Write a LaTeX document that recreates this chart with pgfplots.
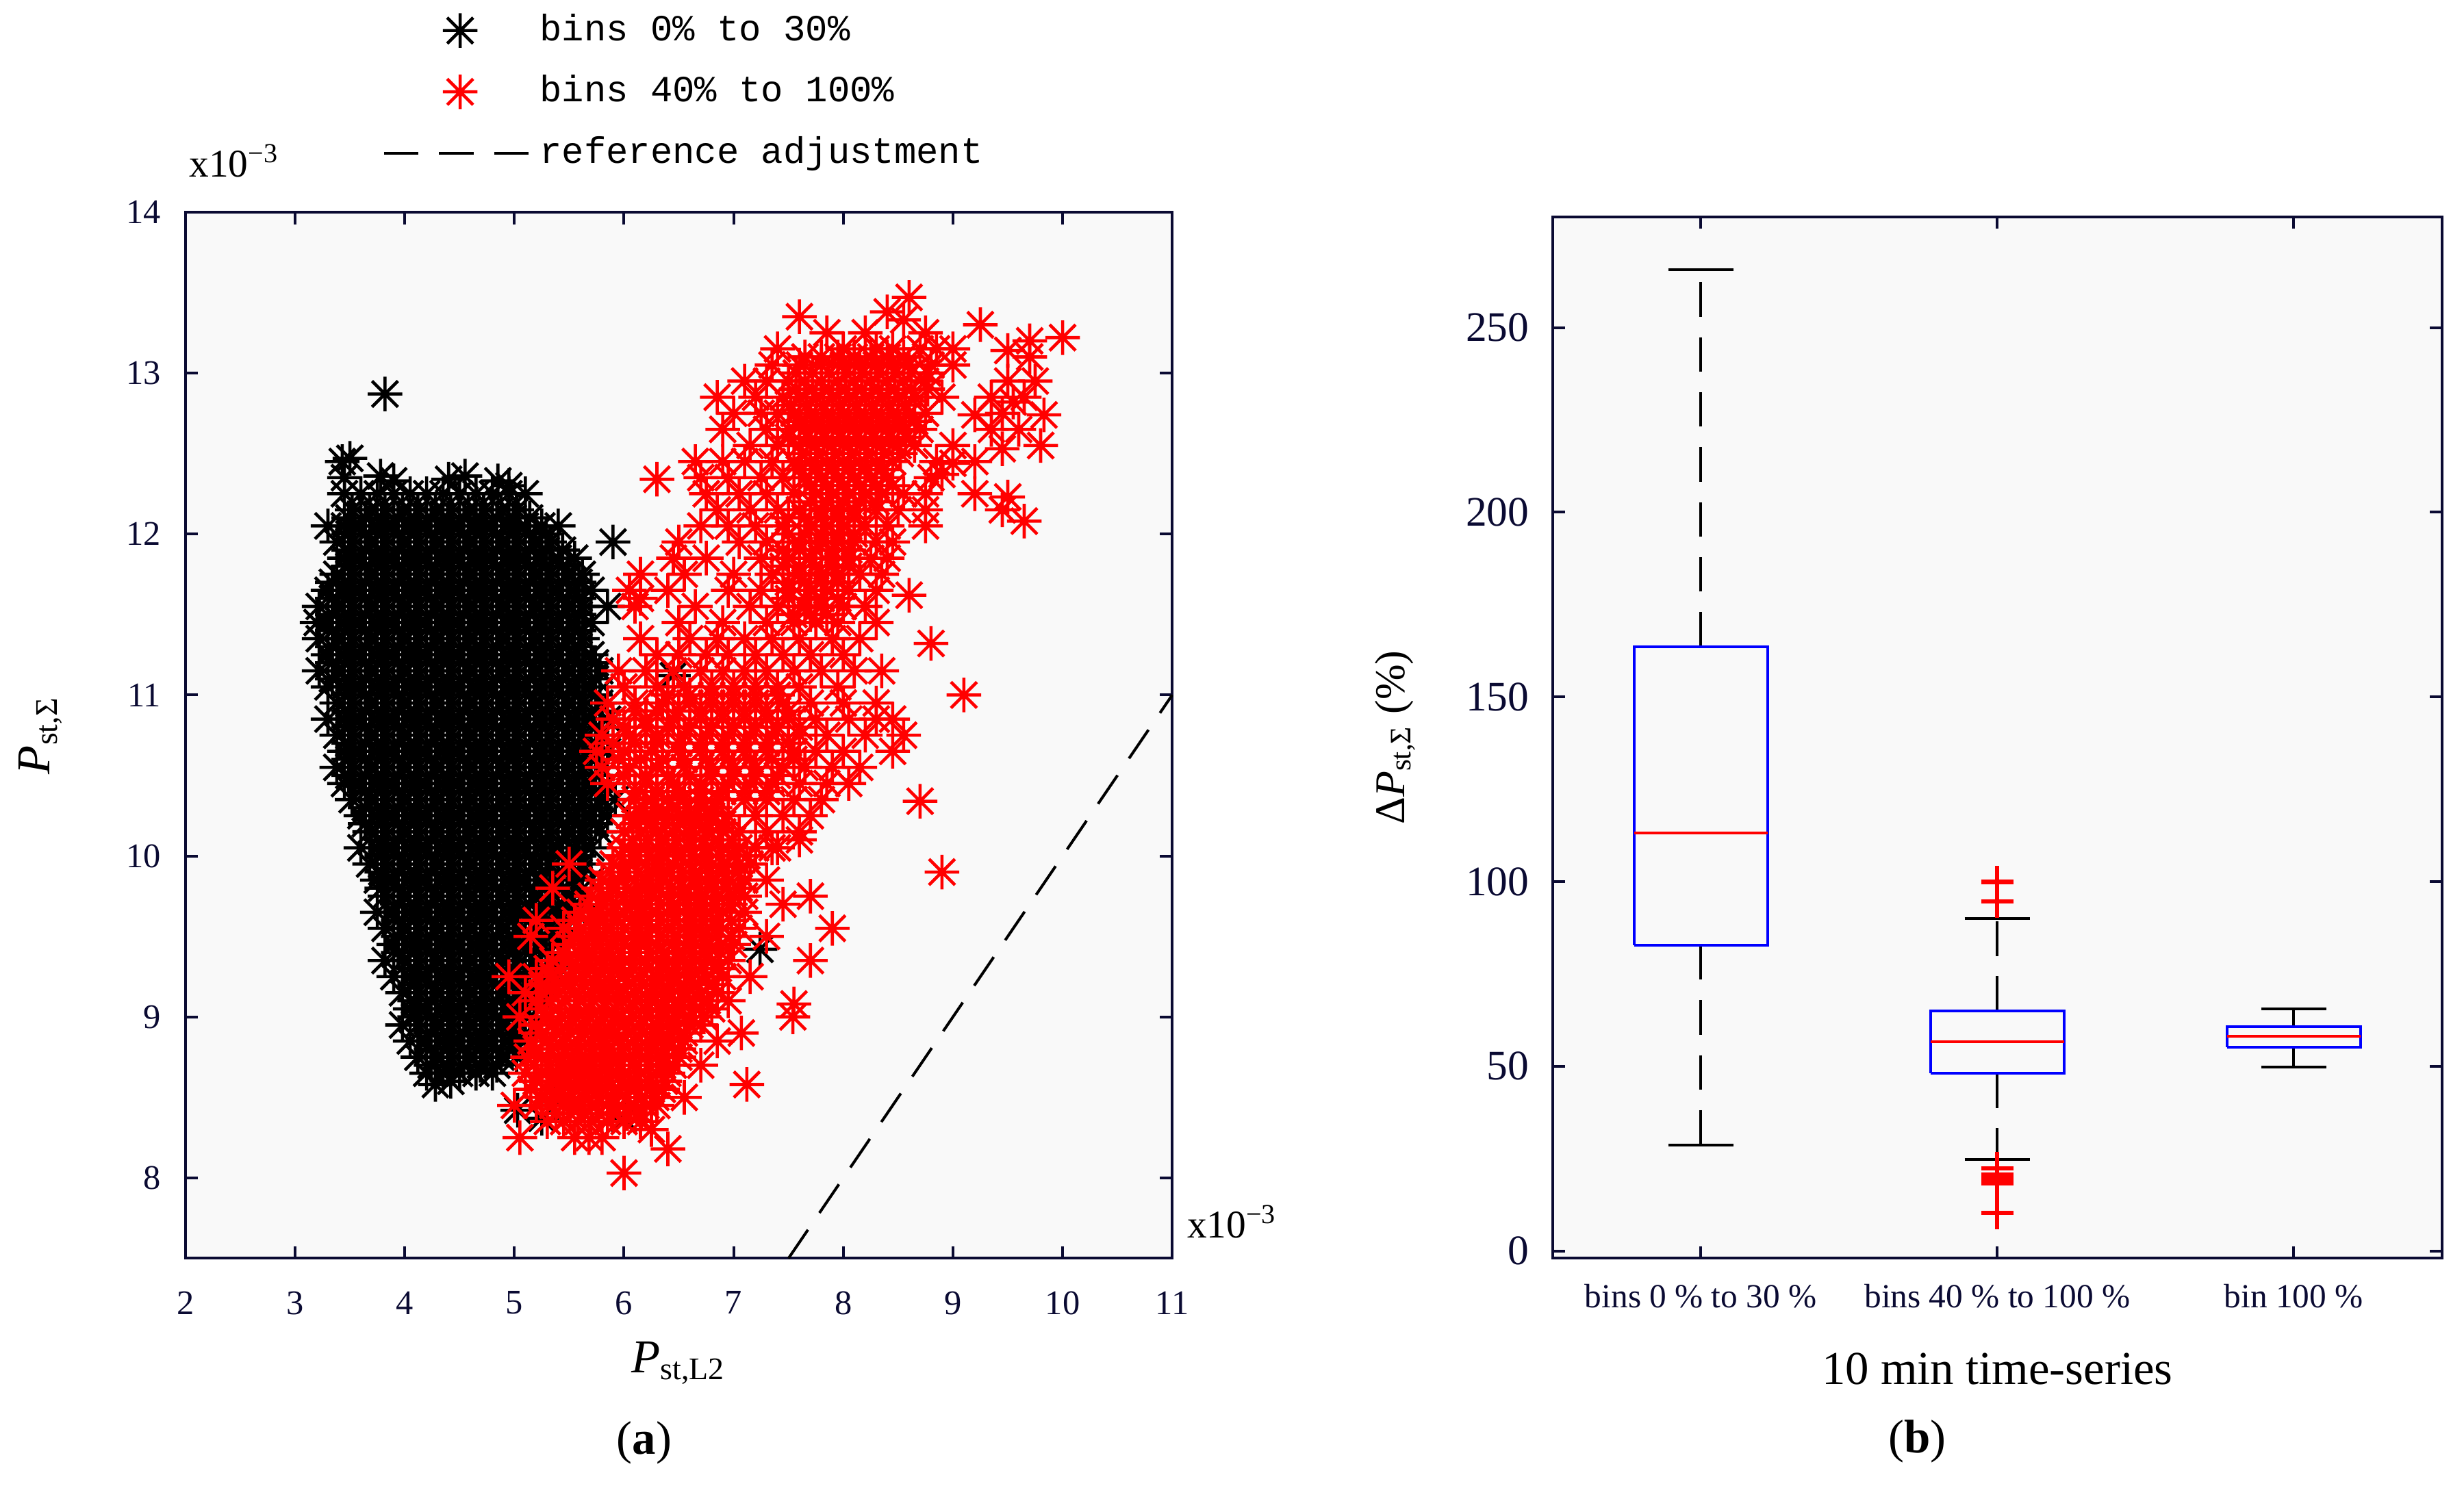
\documentclass[border=0pt]{standalone}
\usepackage{fontspec}
\setmainfont{Liberation Serif}
\newfontfamily\monofont{Liberation Mono}
\usepackage{pgfplots}
\pgfplotsset{compat=1.18}
\definecolor{navy}{RGB}{10,10,50}
\definecolor{bgray}{RGB}{249,249,249}
\pgfdeclareplotmark{mstar}{%
  \pgfpathmoveto{\pgfqpoint{-\pgfplotmarksize}{0pt}}%
  \pgfpathlineto{\pgfqpoint{\pgfplotmarksize}{0pt}}%
  \pgfpathmoveto{\pgfqpoint{0pt}{-\pgfplotmarksize}}%
  \pgfpathlineto{\pgfqpoint{0pt}{\pgfplotmarksize}}%
  \pgfpathmoveto{\pgfqpoint{-0.75\pgfplotmarksize}{-0.75\pgfplotmarksize}}%
  \pgfpathlineto{\pgfqpoint{0.75\pgfplotmarksize}{0.75\pgfplotmarksize}}%
  \pgfpathmoveto{\pgfqpoint{-0.75\pgfplotmarksize}{0.75\pgfplotmarksize}}%
  \pgfpathlineto{\pgfqpoint{0.75\pgfplotmarksize}{-0.75\pgfplotmarksize}}%
  \pgfusepathqstroke}
\pgfplotsset{
  mlframe/.style={
    scale only axis, clip=false,
    axis background/.style={fill=bgray},
    axis line style={navy, line width=0.7pt},
    tick style={navy, line width=0.7pt},
    major tick length=3.1pt, tick align=inside,
    ticklabel style={text=navy},
    /pgf/number format/assume math mode=true,
  },
  markleg/.style={legend image code/.code={\draw[mark repeat=2,mark phase=2,##1] plot coordinates {(0pt,0pt) (19.4pt,0pt) (38.8pt,0pt)};}},
  lineleg/.style={legend image code/.code={\draw[##1] (0pt,0pt) -- (38.8pt,0pt);}},
  blk/.style={only marks, mark=mstar, mark size=4.4pt, line width=0.8pt, black},
  rd/.style={only marks, mark=mstar, mark size=4.4pt, line width=0.8pt, red},
}
\begin{document}
\begin{tikzpicture}
\useasboundingbox (0,0) rectangle (627.2pt,378.8pt);
% ---------------- (a) scatter ----------------
\begin{axis}[mlframe,
  at={(47.2pt,58.4pt)}, anchor=south west,
  width=251.2pt, height=266.4pt,
  xmin=2, xmax=11, ymin=7.5, ymax=14,
  xtick={2,3,...,11}, ytick={8,9,...,14},
  xticklabel style={font=\fontsize{8.8}{10}\selectfont, yshift=-4.9pt},
  yticklabel style={font=\fontsize{8.8}{10}\selectfont, xshift=-2.7pt},
  legend style={draw=none, fill=none, at={(axis description cs:0.199,1.193)}, anchor=north west,
    inner sep=0pt, row sep=5.6pt, font=\monofont\fontsize{9.4}{11}\selectfont,
    nodes={text height=7pt, text depth=2pt, inner sep=0.5pt}},
  legend cell align=left,
]
\addplot[blk, markleg] coordinates {
(3.43,12.45)(3.5,12.47)(3.82,12.87)
(3.45,12.35)(3.78,12.36)(3.9,12.33)(4.4,12.34)(4.55,12.36)(4.85,12.33)(4.95,12.3)
(3.45,12.25)(3.6,12.25)(3.75,12.25)(3.9,12.25)(4.05,12.25)(4.2,12.25)(4.35,12.25)(4.5,12.25)(4.65,12.25)(4.8,12.25)(4.95,12.25)(5.1,12.25)
(3.52,12.15)(3.68,12.15)(3.82,12.15)(3.98,12.15)(4.12,12.15)(4.28,12.15)(4.42,12.15)(4.58,12.15)(4.72,12.15)(4.88,12.15)(5.02,12.15)
(3.3,12.05)(3.45,12.05)(3.6,12.05)(3.75,12.05)(3.9,12.05)(4.05,12.05)(4.2,12.05)(4.35,12.05)(4.5,12.05)(4.65,12.05)(4.8,12.05)(4.95,12.05)(5.1,12.05)(5.25,12.05)(5.4,12.05)
(3.38,11.95)(3.52,11.95)(3.68,11.95)(3.82,11.95)(3.98,11.95)(4.12,11.95)(4.28,11.95)(4.42,11.95)(4.58,11.95)(4.72,11.95)(4.88,11.95)(5.02,11.95)(5.18,11.95)(5.32,11.95)(5.9,11.95)
(3.45,11.85)(3.6,11.85)(3.75,11.85)(3.9,11.85)(4.05,11.85)(4.2,11.85)(4.35,11.85)(4.5,11.85)(4.65,11.85)(4.8,11.85)(4.95,11.85)(5.1,11.85)(5.25,11.85)(5.4,11.85)(5.55,11.85)
(3.38,11.75)(3.52,11.75)(3.68,11.75)(3.82,11.75)(3.98,11.75)(4.12,11.75)(4.28,11.75)(4.42,11.75)(4.58,11.75)(4.72,11.75)(4.88,11.75)(5.02,11.75)(5.18,11.75)(5.32,11.75)(5.48,11.75)(5.62,11.75)
(3.3,11.65)(3.45,11.65)(3.6,11.65)(3.75,11.65)(3.9,11.65)(4.05,11.65)(4.2,11.65)(4.35,11.65)(4.5,11.65)(4.65,11.65)(4.8,11.65)(4.95,11.65)(5.1,11.65)(5.25,11.65)(5.4,11.65)(5.55,11.65)(5.7,11.65)
(3.22,11.55)(3.38,11.55)(3.52,11.55)(3.68,11.55)(3.82,11.55)(3.98,11.55)(4.12,11.55)(4.28,11.55)(4.42,11.55)(4.58,11.55)(4.72,11.55)(4.88,11.55)(5.02,11.55)(5.18,11.55)(5.32,11.55)(5.48,11.55)(5.62,11.55)(5.85,11.55)
(3.2,11.45)(3.3,11.45)(3.45,11.45)(3.6,11.45)(3.75,11.45)(3.9,11.45)(4.05,11.45)(4.2,11.45)(4.35,11.45)(4.5,11.45)(4.65,11.45)(4.8,11.45)(4.95,11.45)(5.1,11.45)(5.25,11.45)(5.4,11.45)(5.55,11.45)(5.7,11.45)
(3.22,11.35)(3.38,11.35)(3.52,11.35)(3.68,11.35)(3.82,11.35)(3.98,11.35)(4.12,11.35)(4.28,11.35)(4.42,11.35)(4.58,11.35)(4.72,11.35)(4.88,11.35)(5.02,11.35)(5.18,11.35)(5.32,11.35)(5.48,11.35)(5.62,11.35)
(3.3,11.25)(3.45,11.25)(3.6,11.25)(3.75,11.25)(3.9,11.25)(4.05,11.25)(4.2,11.25)(4.35,11.25)(4.5,11.25)(4.65,11.25)(4.8,11.25)(4.95,11.25)(5.1,11.25)(5.25,11.25)(5.4,11.25)(5.55,11.25)(5.7,11.25)
(3.22,11.15)(3.38,11.15)(3.52,11.15)(3.68,11.15)(3.82,11.15)(3.98,11.15)(4.12,11.15)(4.28,11.15)(4.42,11.15)(4.58,11.15)(4.72,11.15)(4.88,11.15)(5.02,11.15)(5.18,11.15)(5.32,11.15)(5.48,11.15)(5.62,11.15)(5.78,11.15)
(3.3,11.05)(3.45,11.05)(3.6,11.05)(3.75,11.05)(3.9,11.05)(4.05,11.05)(4.2,11.05)(4.35,11.05)(4.5,11.05)(4.65,11.05)(4.8,11.05)(4.95,11.05)(5.1,11.05)(5.25,11.05)(5.4,11.05)(5.55,11.05)(5.7,11.05)
(3.38,10.95)(3.52,10.95)(3.68,10.95)(3.82,10.95)(3.98,10.95)(4.12,10.95)(4.28,10.95)(4.42,10.95)(4.58,10.95)(4.72,10.95)(4.88,10.95)(5.02,10.95)(5.18,10.95)(5.32,10.95)(5.48,10.95)(5.62,10.95)(5.78,10.95)
(3.3,10.85)(3.45,10.85)(3.6,10.85)(3.75,10.85)(3.9,10.85)(4.05,10.85)(4.2,10.85)(4.35,10.85)(4.5,10.85)(4.65,10.85)(4.8,10.85)(4.95,10.85)(5.1,10.85)(5.25,10.85)(5.4,10.85)(5.55,10.85)(5.7,10.85)(5.85,10.85)
(3.38,10.75)(3.52,10.75)(3.68,10.75)(3.82,10.75)(3.98,10.75)(4.12,10.75)(4.28,10.75)(4.42,10.75)(4.58,10.75)(4.72,10.75)(4.88,10.75)(5.02,10.75)(5.18,10.75)(5.32,10.75)(5.48,10.75)(5.62,10.75)(5.78,10.75)
(3.45,10.65)(3.6,10.65)(3.75,10.65)(3.9,10.65)(4.05,10.65)(4.2,10.65)(4.35,10.65)(4.5,10.65)(4.65,10.65)(4.8,10.65)(4.95,10.65)(5.1,10.65)(5.25,10.65)(5.4,10.65)(5.55,10.65)(5.7,10.65)(5.85,10.65)
(3.38,10.55)(3.52,10.55)(3.68,10.55)(3.82,10.55)(3.98,10.55)(4.12,10.55)(4.28,10.55)(4.42,10.55)(4.58,10.55)(4.72,10.55)(4.88,10.55)(5.02,10.55)(5.18,10.55)(5.32,10.55)(5.48,10.55)(5.62,10.55)(5.78,10.55)
(3.45,10.45)(3.6,10.45)(3.75,10.45)(3.9,10.45)(4.05,10.45)(4.2,10.45)(4.35,10.45)(4.5,10.45)(4.65,10.45)(4.8,10.45)(4.95,10.45)(5.1,10.45)(5.25,10.45)(5.4,10.45)(5.55,10.45)(5.7,10.45)(5.85,10.45)
(3.52,10.35)(3.68,10.35)(3.82,10.35)(3.98,10.35)(4.12,10.35)(4.28,10.35)(4.42,10.35)(4.58,10.35)(4.72,10.35)(4.88,10.35)(5.02,10.35)(5.18,10.35)(5.32,10.35)(5.48,10.35)(5.62,10.35)(5.78,10.35)(5.92,10.35)
(3.6,10.25)(3.75,10.25)(3.9,10.25)(4.05,10.25)(4.2,10.25)(4.35,10.25)(4.5,10.25)(4.65,10.25)(4.8,10.25)(4.95,10.25)(5.1,10.25)(5.25,10.25)(5.4,10.25)(5.55,10.25)(5.7,10.25)(5.85,10.25)
(3.68,10.15)(3.82,10.15)(3.98,10.15)(4.12,10.15)(4.28,10.15)(4.42,10.15)(4.58,10.15)(4.72,10.15)(4.88,10.15)(5.02,10.15)(5.18,10.15)(5.32,10.15)(5.48,10.15)(5.62,10.15)(5.78,10.15)
(3.6,10.05)(3.75,10.05)(3.9,10.05)(4.05,10.05)(4.2,10.05)(4.35,10.05)(4.5,10.05)(4.65,10.05)(4.8,10.05)(4.95,10.05)(5.1,10.05)(5.25,10.05)(5.4,10.05)(5.55,10.05)(5.7,10.05)
(3.68,9.95)(3.82,9.95)(3.98,9.95)(4.12,9.95)(4.28,9.95)(4.42,9.95)(4.58,9.95)(4.72,9.95)(4.88,9.95)(5.02,9.95)(5.18,9.95)(5.32,9.95)(5.48,9.95)(5.62,9.95)
(3.75,9.85)(3.9,9.85)(4.05,9.85)(4.2,9.85)(4.35,9.85)(4.5,9.85)(4.65,9.85)(4.8,9.85)(4.95,9.85)(5.1,9.85)(5.25,9.85)(5.4,9.85)(5.55,9.85)(5.7,9.85)
(3.82,9.75)(3.98,9.75)(4.12,9.75)(4.28,9.75)(4.42,9.75)(4.58,9.75)(4.72,9.75)(4.88,9.75)(5.02,9.75)(5.18,9.75)(5.32,9.75)(5.48,9.75)(5.62,9.75)
(3.75,9.65)(3.9,9.65)(4.05,9.65)(4.2,9.65)(4.35,9.65)(4.5,9.65)(4.65,9.65)(4.8,9.65)(4.95,9.65)(5.1,9.65)(5.25,9.65)(5.4,9.65)(5.55,9.65)
(3.82,9.55)(3.98,9.55)(4.12,9.55)(4.28,9.55)(4.42,9.55)(4.58,9.55)(4.72,9.55)(4.88,9.55)(5.02,9.55)(5.18,9.55)(5.32,9.55)(5.48,9.55)
(3.9,9.45)(4.05,9.45)(4.2,9.45)(4.35,9.45)(4.5,9.45)(4.65,9.45)(4.8,9.45)(4.95,9.45)(5.1,9.45)(5.25,9.45)(5.4,9.45)
(3.82,9.35)(3.98,9.35)(4.12,9.35)(4.28,9.35)(4.42,9.35)(4.58,9.35)(4.72,9.35)(4.88,9.35)(5.02,9.35)(5.18,9.35)(5.32,9.35)
(3.9,9.25)(4.05,9.25)(4.2,9.25)(4.35,9.25)(4.5,9.25)(4.65,9.25)(4.8,9.25)(4.95,9.25)(5.1,9.25)(5.25,9.25)(5.4,9.25)
(3.98,9.15)(4.12,9.15)(4.28,9.15)(4.42,9.15)(4.58,9.15)(4.72,9.15)(4.88,9.15)(5.02,9.15)(5.18,9.15)(5.32,9.15)
(4.05,9.05)(4.2,9.05)(4.35,9.05)(4.5,9.05)(4.65,9.05)(4.8,9.05)(4.95,9.05)(5.1,9.05)(5.25,9.05)
(3.98,8.95)(4.12,8.95)(4.28,8.95)(4.42,8.95)(4.58,8.95)(4.72,8.95)(4.88,8.95)(5.02,8.95)(5.18,8.95)
(4.05,8.85)(4.2,8.85)(4.35,8.85)(4.5,8.85)(4.65,8.85)(4.8,8.85)(4.95,8.85)(5.1,8.85)
(4.12,8.75)(4.28,8.75)(4.42,8.75)(4.58,8.75)(4.72,8.75)(4.88,8.75)(5.02,8.75)
(4.2,8.65)(4.35,8.65)(4.5,8.65)(4.65,8.65)(4.8,8.65)
(4.28,8.58)(4.42,8.6)
(5.03,8.42)(5.25,8.37)(5.45,8.5)(6.0,8.37)(5.7,8.7)(7.24,9.42)(6.45,11.12)
};
\addlegendentry{bins 0\% to 30\%}
\addplot[blk, forget plot] coordinates {
(3.49,12.1)(3.64,12.1)(3.79,12.1)(3.94,12.1)(4.09,12.1)(4.24,12.1)(4.39,12.1)(4.54,12.1)(4.69,12.1)(4.84,12.1)(4.99,12.1)(5.14,12.1)
(3.49,12.0)(3.64,12.0)(3.79,12.0)(3.94,12.0)(4.09,12.0)(4.24,12.0)(4.39,12.0)(4.54,12.0)(4.69,12.0)(4.84,12.0)(4.99,12.0)(5.14,12.0)(5.29,12.0)
(3.49,11.9)(3.64,11.9)(3.79,11.9)(3.94,11.9)(4.09,11.9)(4.24,11.9)(4.39,11.9)(4.54,11.9)(4.69,11.9)(4.84,11.9)(4.99,11.9)(5.14,11.9)(5.29,11.9)(5.44,11.9)
(3.49,11.8)(3.64,11.8)(3.79,11.8)(3.94,11.8)(4.09,11.8)(4.24,11.8)(4.39,11.8)(4.54,11.8)(4.69,11.8)(4.84,11.8)(4.99,11.8)(5.14,11.8)(5.29,11.8)(5.44,11.8)
(3.34,11.7)(3.49,11.7)(3.64,11.7)(3.79,11.7)(3.94,11.7)(4.09,11.7)(4.24,11.7)(4.39,11.7)(4.54,11.7)(4.69,11.7)(4.84,11.7)(4.99,11.7)(5.14,11.7)(5.29,11.7)(5.44,11.7)(5.59,11.7)
(3.34,11.6)(3.49,11.6)(3.64,11.6)(3.79,11.6)(3.94,11.6)(4.09,11.6)(4.24,11.6)(4.39,11.6)(4.54,11.6)(4.69,11.6)(4.84,11.6)(4.99,11.6)(5.14,11.6)(5.29,11.6)(5.44,11.6)(5.59,11.6)
(3.34,11.5)(3.49,11.5)(3.64,11.5)(3.79,11.5)(3.94,11.5)(4.09,11.5)(4.24,11.5)(4.39,11.5)(4.54,11.5)(4.69,11.5)(4.84,11.5)(4.99,11.5)(5.14,11.5)(5.29,11.5)(5.44,11.5)(5.59,11.5)
(3.34,11.4)(3.49,11.4)(3.64,11.4)(3.79,11.4)(3.94,11.4)(4.09,11.4)(4.24,11.4)(4.39,11.4)(4.54,11.4)(4.69,11.4)(4.84,11.4)(4.99,11.4)(5.14,11.4)(5.29,11.4)(5.44,11.4)(5.59,11.4)
(3.34,11.3)(3.49,11.3)(3.64,11.3)(3.79,11.3)(3.94,11.3)(4.09,11.3)(4.24,11.3)(4.39,11.3)(4.54,11.3)(4.69,11.3)(4.84,11.3)(4.99,11.3)(5.14,11.3)(5.29,11.3)(5.44,11.3)(5.59,11.3)
(3.34,11.2)(3.49,11.2)(3.64,11.2)(3.79,11.2)(3.94,11.2)(4.09,11.2)(4.24,11.2)(4.39,11.2)(4.54,11.2)(4.69,11.2)(4.84,11.2)(4.99,11.2)(5.14,11.2)(5.29,11.2)(5.44,11.2)(5.59,11.2)(5.74,11.2)
(3.34,11.1)(3.49,11.1)(3.64,11.1)(3.79,11.1)(3.94,11.1)(4.09,11.1)(4.24,11.1)(4.39,11.1)(4.54,11.1)(4.69,11.1)(4.84,11.1)(4.99,11.1)(5.14,11.1)(5.29,11.1)(5.44,11.1)(5.59,11.1)(5.74,11.1)
(3.49,11.0)(3.64,11.0)(3.79,11.0)(3.94,11.0)(4.09,11.0)(4.24,11.0)(4.39,11.0)(4.54,11.0)(4.69,11.0)(4.84,11.0)(4.99,11.0)(5.14,11.0)(5.29,11.0)(5.44,11.0)(5.59,11.0)(5.74,11.0)
(3.49,10.9)(3.64,10.9)(3.79,10.9)(3.94,10.9)(4.09,10.9)(4.24,10.9)(4.39,10.9)(4.54,10.9)(4.69,10.9)(4.84,10.9)(4.99,10.9)(5.14,10.9)(5.29,10.9)(5.44,10.9)(5.59,10.9)(5.74,10.9)
(3.49,10.8)(3.64,10.8)(3.79,10.8)(3.94,10.8)(4.09,10.8)(4.24,10.8)(4.39,10.8)(4.54,10.8)(4.69,10.8)(4.84,10.8)(4.99,10.8)(5.14,10.8)(5.29,10.8)(5.44,10.8)(5.59,10.8)(5.74,10.8)
(3.49,10.7)(3.64,10.7)(3.79,10.7)(3.94,10.7)(4.09,10.7)(4.24,10.7)(4.39,10.7)(4.54,10.7)(4.69,10.7)(4.84,10.7)(4.99,10.7)(5.14,10.7)(5.29,10.7)(5.44,10.7)(5.59,10.7)(5.74,10.7)
(3.49,10.6)(3.64,10.6)(3.79,10.6)(3.94,10.6)(4.09,10.6)(4.24,10.6)(4.39,10.6)(4.54,10.6)(4.69,10.6)(4.84,10.6)(4.99,10.6)(5.14,10.6)(5.29,10.6)(5.44,10.6)(5.59,10.6)(5.74,10.6)
(3.49,10.5)(3.64,10.5)(3.79,10.5)(3.94,10.5)(4.09,10.5)(4.24,10.5)(4.39,10.5)(4.54,10.5)(4.69,10.5)(4.84,10.5)(4.99,10.5)(5.14,10.5)(5.29,10.5)(5.44,10.5)(5.59,10.5)(5.74,10.5)
(3.64,10.4)(3.79,10.4)(3.94,10.4)(4.09,10.4)(4.24,10.4)(4.39,10.4)(4.54,10.4)(4.69,10.4)(4.84,10.4)(4.99,10.4)(5.14,10.4)(5.29,10.4)(5.44,10.4)(5.59,10.4)(5.74,10.4)
(3.64,10.3)(3.79,10.3)(3.94,10.3)(4.09,10.3)(4.24,10.3)(4.39,10.3)(4.54,10.3)(4.69,10.3)(4.84,10.3)(4.99,10.3)(5.14,10.3)(5.29,10.3)(5.44,10.3)(5.59,10.3)(5.74,10.3)
(3.64,10.2)(3.79,10.2)(3.94,10.2)(4.09,10.2)(4.24,10.2)(4.39,10.2)(4.54,10.2)(4.69,10.2)(4.84,10.2)(4.99,10.2)(5.14,10.2)(5.29,10.2)(5.44,10.2)(5.59,10.2)(5.74,10.2)
(3.79,10.1)(3.94,10.1)(4.09,10.1)(4.24,10.1)(4.39,10.1)(4.54,10.1)(4.69,10.1)(4.84,10.1)(4.99,10.1)(5.14,10.1)(5.29,10.1)(5.44,10.1)(5.59,10.1)
(3.79,10.0)(3.94,10.0)(4.09,10.0)(4.24,10.0)(4.39,10.0)(4.54,10.0)(4.69,10.0)(4.84,10.0)(4.99,10.0)(5.14,10.0)(5.29,10.0)(5.44,10.0)(5.59,10.0)
(3.79,9.9)(3.94,9.9)(4.09,9.9)(4.24,9.9)(4.39,9.9)(4.54,9.9)(4.69,9.9)(4.84,9.9)(4.99,9.9)(5.14,9.9)(5.29,9.9)(5.44,9.9)(5.59,9.9)
(3.79,9.8)(3.94,9.8)(4.09,9.8)(4.24,9.8)(4.39,9.8)(4.54,9.8)(4.69,9.8)(4.84,9.8)(4.99,9.8)(5.14,9.8)(5.29,9.8)(5.44,9.8)
(3.94,9.7)(4.09,9.7)(4.24,9.7)(4.39,9.7)(4.54,9.7)(4.69,9.7)(4.84,9.7)(4.99,9.7)(5.14,9.7)(5.29,9.7)(5.44,9.7)
(3.94,9.6)(4.09,9.6)(4.24,9.6)(4.39,9.6)(4.54,9.6)(4.69,9.6)(4.84,9.6)(4.99,9.6)(5.14,9.6)(5.29,9.6)(5.44,9.6)
(3.94,9.5)(4.09,9.5)(4.24,9.5)(4.39,9.5)(4.54,9.5)(4.69,9.5)(4.84,9.5)(4.99,9.5)(5.14,9.5)(5.29,9.5)
(3.94,9.4)(4.09,9.4)(4.24,9.4)(4.39,9.4)(4.54,9.4)(4.69,9.4)(4.84,9.4)(4.99,9.4)(5.14,9.4)(5.29,9.4)
(4.09,9.3)(4.24,9.3)(4.39,9.3)(4.54,9.3)(4.69,9.3)(4.84,9.3)(4.99,9.3)(5.14,9.3)(5.29,9.3)
(4.09,9.2)(4.24,9.2)(4.39,9.2)(4.54,9.2)(4.69,9.2)(4.84,9.2)(4.99,9.2)(5.14,9.2)
(4.09,9.1)(4.24,9.1)(4.39,9.1)(4.54,9.1)(4.69,9.1)(4.84,9.1)(4.99,9.1)(5.14,9.1)
(4.09,9.0)(4.24,9.0)(4.39,9.0)(4.54,9.0)(4.69,9.0)(4.84,9.0)(4.99,9.0)(5.14,9.0)
(4.24,8.9)(4.39,8.9)(4.54,8.9)(4.69,8.9)(4.84,8.9)(4.99,8.9)
(4.24,8.8)(4.39,8.8)(4.54,8.8)(4.69,8.8)(4.84,8.8)(4.99,8.8)
(4.24,8.7)(4.39,8.7)(4.54,8.7)(4.69,8.7)(4.84,8.7)
};
\addplot[rd, markleg] coordinates {
(5.55,8.25)(5.68,8.25)(5.8,8.25)
(5.3,8.35)(5.45,8.35)(5.58,8.35)(5.7,8.35)(5.85,8.35)(6.0,8.35)(6.15,8.35)
(5.2,8.45)(5.35,8.45)(5.5,8.45)(5.62,8.45)(5.75,8.45)(5.9,8.45)(6.05,8.45)(6.2,8.45)(6.3,8.45)
(5.15,8.55)(5.3,8.55)(5.42,8.55)(5.55,8.55)(5.68,8.55)(5.8,8.55)(5.95,8.55)(6.1,8.55)(6.25,8.55)(6.35,8.55)
(5.1,8.65)(5.25,8.65)(5.38,8.65)(5.5,8.65)(5.62,8.65)(5.75,8.65)(5.88,8.65)(6.0,8.65)(6.15,8.65)(6.3,8.65)(6.4,8.65)
(5.12,8.75)(5.25,8.75)(5.4,8.75)(5.52,8.75)(5.65,8.75)(5.78,8.75)(5.9,8.75)(6.05,8.75)(6.2,8.75)(6.35,8.75)(6.5,8.75)
(5.15,8.85)(5.3,8.85)(5.45,8.85)(5.58,8.85)(5.7,8.85)(5.82,8.85)(5.95,8.85)(6.1,8.85)(6.25,8.85)(6.4,8.85)(6.55,8.85)
(5.2,8.95)(5.35,8.95)(5.5,8.95)(5.62,8.95)(5.75,8.95)(5.88,8.95)(6.0,8.95)(6.15,8.95)(6.3,8.95)(6.45,8.95)(6.6,8.95)(6.7,8.95)
(5.25,9.05)(5.4,9.05)(5.55,9.05)(5.68,9.05)(5.8,9.05)(5.92,9.05)(6.05,9.05)(6.2,9.05)(6.35,9.05)(6.5,9.05)(6.65,9.05)(6.8,9.05)
(5.1,9.15)(5.25,9.15)(5.4,9.15)(5.55,9.15)(5.7,9.15)(5.82,9.15)(5.95,9.15)(6.1,9.15)(6.25,9.15)(6.4,9.15)(6.55,9.15)(6.7,9.15)(6.85,9.15)
(5.2,9.25)(5.35,9.25)(5.5,9.25)(5.62,9.25)(5.75,9.25)(5.88,9.25)(6.0,9.25)(6.15,9.25)(6.3,9.25)(6.45,9.25)(6.6,9.25)(6.75,9.25)(6.9,9.25)
(5.35,9.35)(5.5,9.35)(5.65,9.35)(5.78,9.35)(5.9,9.35)(6.05,9.35)(6.2,9.35)(6.35,9.35)(6.5,9.35)(6.65,9.35)(6.8,9.35)(6.95,9.35)
(5.5,9.45)(5.62,9.45)(5.75,9.45)(5.88,9.45)(6.0,9.45)(6.15,9.45)(6.3,9.45)(6.45,9.45)(6.6,9.45)(6.75,9.45)(6.88,9.45)(7.0,9.45)
(5.45,9.55)(5.6,9.55)(5.72,9.55)(5.85,9.55)(6.0,9.55)(6.12,9.55)(6.25,9.55)(6.4,9.55)(6.55,9.55)(6.7,9.55)(6.85,9.55)(7.05,9.55)
(5.6,9.65)(5.75,9.65)(5.88,9.65)(6.0,9.65)(6.15,9.65)(6.3,9.65)(6.45,9.65)(6.6,9.65)(6.75,9.65)(6.9,9.65)(7.1,9.65)
(5.7,9.75)(5.85,9.75)(6.0,9.75)(6.12,9.75)(6.25,9.75)(6.4,9.75)(6.55,9.75)(6.7,9.75)(6.85,9.75)(7.0,9.75)(7.1,9.75)
(5.8,9.85)(5.95,9.85)(6.1,9.85)(6.22,9.85)(6.35,9.85)(6.5,9.85)(6.65,9.85)(6.8,9.85)(6.95,9.85)(7.1,9.85)
(5.9,9.95)(6.05,9.95)(6.2,9.95)(6.32,9.95)(6.45,9.95)(6.6,9.95)(6.75,9.95)(6.9,9.95)(7.05,9.95)(7.15,9.95)
(6.0,10.05)(6.15,10.05)(6.3,10.05)(6.45,10.05)(6.6,10.05)(6.75,10.05)(6.9,10.05)(7.05,10.05)(7.2,10.05)
(6.0,10.15)(6.15,10.15)(6.3,10.15)(6.45,10.15)(6.6,10.15)(6.75,10.15)(6.9,10.15)(7.05,10.15)
(6.05,10.25)(6.2,10.25)(6.35,10.25)(6.5,10.25)(6.65,10.25)(6.8,10.25)(6.95,10.25)
(6.1,10.35)(6.25,10.35)(6.4,10.35)(6.55,10.35)(6.7,10.35)(6.85,10.35)
(5.05,8.25)(5.0,8.45)(4.95,9.25)(5.2,9.6)(5.15,9.5)(5.5,9.95)(5.35,9.8)(6.0,8.03)(6.4,8.18)(6.25,8.3)(6.55,8.5)(6.7,8.7)(6.85,8.85)(7.07,8.9)(7.12,8.58)(6.95,9.1)(7.15,9.25)(7.54,9.0)(7.55,9.08)(7.7,9.35)(7.9,9.55)(7.3,9.5)(7.45,9.7)(7.7,9.75)(7.3,9.85)(7.4,10.05)(7.6,10.1)(5.05,9.0)
(8.6,13.47)
(7.6,13.35)(8.4,13.38)(8.55,13.33)
(7.85,13.25)(8.2,13.25)(8.75,13.25)(9.25,13.3)(9.7,13.2)(10.0,13.22)
(7.4,13.15)(8.0,13.15)(8.3,13.15)(8.45,13.15)(8.7,13.15)(8.85,13.15)(9.0,13.15)(9.5,13.14)(9.7,13.1)
(7.35,13.05)(7.6,13.05)(7.8,13.05)(8.0,13.05)(8.15,13.05)(8.3,13.05)(8.45,13.05)(8.6,13.05)(8.8,13.05)(9.0,13.05)
(7.1,12.95)(7.3,12.95)(7.5,12.95)(7.65,12.95)(7.8,12.95)(7.95,12.95)(8.1,12.95)(8.25,12.95)(8.4,12.95)(8.55,12.95)(8.75,12.95)(9.5,12.95)(9.75,12.95)
(6.85,12.85)(7.2,12.85)(7.45,12.85)(7.6,12.85)(7.75,12.85)(7.9,12.85)(8.05,12.85)(8.2,12.85)(8.35,12.85)(8.5,12.85)(8.65,12.85)(8.9,12.85)(9.35,12.85)(9.55,12.82)(9.65,12.85)
(7.0,12.75)(7.25,12.75)(7.4,12.75)(7.55,12.75)(7.7,12.75)(7.85,12.75)(8.0,12.75)(8.15,12.75)(8.3,12.75)(8.45,12.75)(8.6,12.75)(8.75,12.75)(9.2,12.74)(9.45,12.75)(9.83,12.74)
(6.9,12.65)(7.3,12.65)(7.5,12.65)(7.65,12.65)(7.8,12.65)(7.95,12.65)(8.1,12.65)(8.25,12.65)(8.4,12.65)(8.55,12.65)(8.7,12.65)(9.35,12.65)(9.6,12.65)
(7.15,12.55)(7.4,12.55)(7.6,12.55)(7.75,12.55)(7.9,12.55)(8.05,12.55)(8.2,12.55)(8.35,12.55)(8.5,12.55)(8.65,12.55)(9.0,12.55)(9.45,12.53)(9.8,12.55)
(6.65,12.45)(6.9,12.45)(7.1,12.45)(7.35,12.45)(7.55,12.45)(7.7,12.45)(7.85,12.45)(8.0,12.45)(8.15,12.45)(8.3,12.45)(8.45,12.45)(8.85,12.45)(9.0,12.44)(9.2,12.45)
(6.3,12.34)(6.7,12.35)(6.95,12.35)(7.25,12.35)(7.45,12.35)(7.65,12.35)(7.8,12.35)(7.95,12.35)(8.1,12.35)(8.25,12.35)(8.4,12.35)(8.8,12.35)(8.9,12.37)
(6.75,12.25)(7.05,12.25)(7.3,12.25)(7.55,12.25)(7.75,12.25)(7.9,12.25)(8.05,12.25)(8.2,12.25)(8.35,12.25)(8.55,12.25)(8.75,12.25)(9.2,12.25)(9.5,12.23)
(6.85,12.15)(7.15,12.15)(7.4,12.15)(7.6,12.15)(7.8,12.15)(7.95,12.15)(8.1,12.15)(8.3,12.15)(8.5,12.15)(8.75,12.15)(9.45,12.15)
(6.7,12.05)(6.95,12.05)(7.2,12.05)(7.45,12.05)(7.7,12.05)(7.85,12.05)(8.0,12.05)(8.2,12.05)(8.4,12.05)(8.75,12.05)(9.65,12.08)
(6.5,11.95)(7.05,11.95)(7.3,11.95)(7.6,11.95)(7.8,11.95)(7.95,11.95)(8.1,11.95)(8.3,11.95)(8.45,11.95)
(6.45,11.85)(6.75,11.85)(7.25,11.85)(7.5,11.85)(7.7,11.85)(7.9,11.85)(8.05,11.85)(8.25,11.85)(8.4,11.85)
(6.15,11.75)(6.55,11.75)(7.0,11.75)(7.35,11.75)(7.6,11.75)(7.8,11.75)(7.95,11.75)(8.15,11.75)(8.35,11.75)
(6.05,11.65)(6.4,11.65)(6.95,11.65)(7.25,11.65)(7.5,11.65)(7.7,11.65)(7.85,11.65)(8.05,11.65)(8.3,11.65)(8.6,11.62)
(6.1,11.55)(6.65,11.55)(7.15,11.55)(7.4,11.55)(7.65,11.55)(7.8,11.55)(8.0,11.55)(8.2,11.55)
(6.5,11.45)(6.9,11.45)(7.3,11.45)(7.55,11.45)(7.75,11.45)(7.95,11.45)(8.3,11.45)
(6.15,11.35)(6.6,11.35)(6.85,11.35)(7.1,11.35)(7.35,11.35)(7.6,11.35)(7.9,11.35)(8.15,11.35)(8.8,11.32)
(6.3,11.25)(6.5,11.25)(6.75,11.25)(6.95,11.25)(7.2,11.25)(7.45,11.25)(7.7,11.25)(8.0,11.25)
(5.95,11.15)(6.2,11.15)(6.45,11.15)(6.7,11.15)(6.9,11.15)(7.1,11.15)(7.3,11.15)(7.55,11.15)(7.8,11.15)(8.1,11.15)(8.35,11.15)
(6.0,11.05)(6.3,11.05)(6.55,11.05)(6.8,11.05)(7.0,11.05)(7.2,11.05)(7.4,11.05)(7.6,11.05)(7.95,11.05)(9.1,11.0)
(5.85,10.95)(6.1,10.95)(6.35,10.95)(6.6,10.95)(6.8,10.95)(7.0,10.95)(7.2,10.95)(7.45,10.95)(7.7,10.95)(8.0,10.95)(8.3,10.95)
(5.9,10.85)(6.2,10.85)(6.45,10.85)(6.7,10.85)(6.9,10.85)(7.1,10.85)(7.3,10.85)(7.5,10.85)(7.75,10.85)(8.05,10.85)(8.3,10.85)(8.45,10.85)
(5.8,10.75)(6.05,10.75)(6.3,10.75)(6.55,10.75)(6.75,10.75)(6.95,10.75)(7.15,10.75)(7.35,10.75)(7.6,10.75)(7.85,10.75)(8.2,10.75)(8.55,10.75)
(5.75,10.65)(6.0,10.65)(6.25,10.65)(6.5,10.65)(6.7,10.65)(6.9,10.65)(7.1,10.65)(7.3,10.65)(7.55,10.65)(7.75,10.65)(8.0,10.65)(8.45,10.65)
(5.8,10.55)(6.05,10.55)(6.3,10.55)(6.55,10.55)(6.8,10.55)(7.0,10.55)(7.2,10.55)(7.45,10.55)(7.65,10.55)(7.9,10.55)(8.15,10.55)
(5.85,10.45)(6.2,10.45)(6.45,10.45)(6.7,10.45)(6.95,10.45)(7.15,10.45)(7.35,10.45)(7.6,10.45)(7.85,10.45)(8.05,10.45)
(7.1,10.35)(7.3,10.35)(7.55,10.35)(7.8,10.35)(8.7,10.34)
(7.2,10.25)(7.45,10.25)(7.7,10.25)(7.3,10.15)(7.6,10.15)(7.35,10.05)
(8.9,9.9)(6.15,11.6)
};
\addlegendentry{bins 40\% to 100\%}
\addplot[rd, forget plot] coordinates {
(5.38,8.4)(5.51,8.4)(5.64,8.4)(5.77,8.4)(5.9,8.4)(6.03,8.4)(6.16,8.4)
(5.25,8.5)(5.38,8.5)(5.51,8.5)(5.64,8.5)(5.77,8.5)(5.9,8.5)(6.03,8.5)(6.16,8.5)(6.29,8.5)
(5.2,8.6)(5.33,8.6)(5.46,8.6)(5.59,8.6)(5.72,8.6)(5.85,8.6)(5.98,8.6)(6.11,8.6)(6.24,8.6)(6.37,8.6)
(5.18,8.7)(5.31,8.7)(5.44,8.7)(5.57,8.7)(5.7,8.7)(5.83,8.7)(5.96,8.7)(6.09,8.7)(6.22,8.7)(6.35,8.7)(6.45,8.7)
(5.2,8.8)(5.33,8.8)(5.46,8.8)(5.59,8.8)(5.72,8.8)(5.85,8.8)(5.98,8.8)(6.11,8.8)(6.24,8.8)(6.37,8.8)(6.5,8.8)
(5.25,8.9)(5.38,8.9)(5.51,8.9)(5.64,8.9)(5.77,8.9)(5.9,8.9)(6.03,8.9)(6.16,8.9)(6.29,8.9)(6.42,8.9)(6.55,8.9)
(5.3,9.0)(5.43,9.0)(5.56,9.0)(5.69,9.0)(5.82,9.0)(5.95,9.0)(6.08,9.0)(6.21,9.0)(6.34,9.0)(6.47,9.0)(6.6,9.0)(6.73,9.0)
(5.2,9.1)(5.33,9.1)(5.46,9.1)(5.59,9.1)(5.72,9.1)(5.85,9.1)(5.98,9.1)(6.11,9.1)(6.24,9.1)(6.37,9.1)(6.5,9.1)(6.63,9.1)(6.76,9.1)
(5.25,9.2)(5.38,9.2)(5.51,9.2)(5.64,9.2)(5.77,9.2)(5.9,9.2)(6.03,9.2)(6.16,9.2)(6.29,9.2)(6.42,9.2)(6.55,9.2)(6.68,9.2)(6.81,9.2)
(5.3,9.3)(5.43,9.3)(5.56,9.3)(5.69,9.3)(5.82,9.3)(5.95,9.3)(6.08,9.3)(6.21,9.3)(6.34,9.3)(6.47,9.3)(6.6,9.3)(6.73,9.3)(6.86,9.3)
(5.45,9.4)(5.58,9.4)(5.71,9.4)(5.84,9.4)(5.97,9.4)(6.1,9.4)(6.23,9.4)(6.36,9.4)(6.49,9.4)(6.62,9.4)(6.75,9.4)(6.88,9.4)
(5.55,9.5)(5.68,9.5)(5.81,9.5)(5.94,9.5)(6.07,9.5)(6.2,9.5)(6.33,9.5)(6.46,9.5)(6.59,9.5)(6.72,9.5)(6.85,9.5)(6.98,9.5)
(5.55,9.6)(5.68,9.6)(5.81,9.6)(5.94,9.6)(6.07,9.6)(6.2,9.6)(6.33,9.6)(6.46,9.6)(6.59,9.6)(6.72,9.6)(6.85,9.6)(6.98,9.6)
(5.67,9.7)(5.8,9.7)(5.93,9.7)(6.06,9.7)(6.19,9.7)(6.32,9.7)(6.45,9.7)(6.58,9.7)(6.71,9.7)(6.84,9.7)(6.97,9.7)
(5.77,9.8)(5.9,9.8)(6.03,9.8)(6.16,9.8)(6.29,9.8)(6.42,9.8)(6.55,9.8)(6.68,9.8)(6.81,9.8)(6.94,9.8)(7.05,9.8)
(5.87,9.9)(6.0,9.9)(6.13,9.9)(6.26,9.9)(6.39,9.9)(6.52,9.9)(6.65,9.9)(6.78,9.9)(6.91,9.9)(7.04,9.9)
(5.97,10.0)(6.1,10.0)(6.23,10.0)(6.36,10.0)(6.49,10.0)(6.62,10.0)(6.75,10.0)(6.88,10.0)(7.01,10.0)(7.12,10.0)
(6.08,10.1)(6.21,10.1)(6.34,10.1)(6.47,10.1)(6.6,10.1)(6.73,10.1)(6.86,10.1)(6.99,10.1)
(6.12,10.2)(6.25,10.2)(6.38,10.2)(6.51,10.2)(6.64,10.2)(6.77,10.2)(6.9,10.2)
(6.18,10.3)(6.31,10.3)(6.44,10.3)(6.57,10.3)(6.7,10.3)(6.83,10.3)
(6.1,10.4)(6.3,10.4)(6.5,10.4)(6.7,10.4)(6.9,10.4)(7.1,10.4)(7.3,10.4)
(6.0,10.5)(6.2,10.5)(6.4,10.5)(6.6,10.5)(6.8,10.5)(7.0,10.5)(7.2,10.5)(7.4,10.5)
(5.95,10.6)(6.15,10.6)(6.35,10.6)(6.55,10.6)(6.75,10.6)(6.95,10.6)(7.15,10.6)(7.35,10.6)(7.55,10.6)
(5.9,10.7)(6.1,10.7)(6.3,10.7)(6.5,10.7)(6.7,10.7)(6.9,10.7)(7.1,10.7)(7.3,10.7)(7.5,10.7)
(6.0,10.8)(6.2,10.8)(6.4,10.8)(6.6,10.8)(6.8,10.8)(7.0,10.8)(7.2,10.8)(7.4,10.8)(7.6,10.8)
(6.1,10.9)(6.3,10.9)(6.5,10.9)(6.7,10.9)(6.9,10.9)(7.1,10.9)(7.3,10.9)(7.5,10.9)
(6.4,11.0)(6.6,11.0)(6.8,11.0)(7.0,11.0)(7.2,11.0)(7.4,11.0)
(7.55,11.5)(7.7,11.5)(7.85,11.5)
(7.5,11.6)(7.65,11.6)(7.8,11.6)(7.95,11.6)
(7.5,11.7)(7.65,11.7)(7.8,11.7)(7.95,11.7)
(7.45,11.8)(7.6,11.8)(7.75,11.8)(7.9,11.8)(8.05,11.8)
(7.45,11.9)(7.6,11.9)(7.75,11.9)(7.9,11.9)(8.05,11.9)
(7.5,12.0)(7.65,12.0)(7.8,12.0)(7.95,12.0)(8.1,12.0)
(7.5,12.1)(7.65,12.1)(7.8,12.1)(7.95,12.1)(8.1,12.1)
(7.7,12.2)(7.85,12.2)(8.0,12.2)(8.15,12.2)(8.3,12.2)
(7.7,12.3)(7.85,12.3)(8.0,12.3)(8.15,12.3)(8.3,12.3)(8.45,12.3)
(7.6,12.4)(7.75,12.4)(7.9,12.4)(8.05,12.4)(8.2,12.4)(8.35,12.4)
(7.62,12.5)(7.77,12.5)(7.92,12.5)(8.07,12.5)(8.22,12.5)(8.37,12.5)(8.52,12.5)
(7.5,12.6)(7.67,12.6)(7.82,12.6)(7.97,12.6)(8.12,12.6)(8.27,12.6)(8.42,12.6)(8.57,12.6)
(7.6,12.7)(7.75,12.7)(7.9,12.7)(8.05,12.7)(8.2,12.7)(8.35,12.7)(8.5,12.7)(8.65,12.7)
(7.52,12.8)(7.67,12.8)(7.82,12.8)(7.97,12.8)(8.12,12.8)(8.27,12.8)(8.42,12.8)(8.57,12.8)
(7.57,12.9)(7.72,12.9)(7.87,12.9)(8.02,12.9)(8.17,12.9)(8.32,12.9)(8.47,12.9)(8.62,12.9)(8.77,12.9)
(7.57,13.0)(7.72,13.0)(7.87,13.0)(8.02,13.0)(8.17,13.0)(8.32,13.0)(8.47,13.0)(8.62,13.0)(8.77,13.0)
(7.65,13.1)(7.8,13.1)(7.95,13.1)(8.1,13.1)(8.25,13.1)(8.4,13.1)(8.55,13.1)
};
\addplot[black, line width=0.7pt, dash pattern=on 8.8pt off 5.2pt, lineleg] coordinates {(7.5,7.5) (11,11)};
\addlegendentry{reference adjustment}
\node[anchor=base west, inner sep=0pt, font=\fontsize{10}{12}\selectfont] at ([xshift=0.8pt,yshift=9pt]axis description cs:0,1) {x10\textsuperscript{−3}};
\node[anchor=base west, inner sep=0pt, font=\fontsize{10}{12}\selectfont] at ([xshift=3.6pt,yshift=5.2pt]axis description cs:1,0) {x10\textsuperscript{−3}};
\node[rotate=90, font=\fontsize{12}{14}\selectfont] at (axis description cs:-0.147,0.5) {\textit{P}\textsubscript{st,Σ}};
\node[font=\fontsize{12}{14}\selectfont] at (axis description cs:0.5,-0.1) {\textit{P}\textsubscript{st,L2}};
\node[font=\fontsize{12}{14}\selectfont] at (axis description cs:0.465,-0.176) {(\textbf{a})};
\end{axis}
% ---------------- (b) boxplot ----------------
\begin{axis}[mlframe,
  at={(395.2pt,58.4pt)}, anchor=south west,
  width=226.4pt, height=265.2pt,
  xmin=0.5, xmax=3.5, ymin=-2, ymax=280,
  xtick={1,2,3}, xticklabels={bins 0 \% to 30 \%, bins 40 \% to 100 \%, bin 100 \%},
  ytick={0,50,...,250},
  xticklabel style={font=\fontsize{8.6}{10}\selectfont, yshift=-3pt},
  yticklabel style={font=\fontsize{10.7}{12}\selectfont, xshift=-2.5pt},
]
% box 1
\addplot[black, line width=0.7pt, dash pattern=on 8.8pt off 5.2pt] coordinates {(1,163.6) (1,265.7)};
\addplot[black, line width=0.7pt, dash pattern=on 8.8pt off 5.2pt] coordinates {(1,82.8) (1,28.6)};
\addplot[black, line width=0.7pt] coordinates {(0.89,265.7) (1.11,265.7)};
\addplot[black, line width=0.7pt] coordinates {(0.89,28.6) (1.11,28.6)};
\addplot[blue, line width=0.7pt] coordinates {(0.775,82.8) (1.225,82.8) (1.225,163.6) (0.775,163.6) (0.775,82.8)};
\addplot[red, line width=0.7pt] coordinates {(0.775,113.2) (1.225,113.2)};
% box 2
\addplot[black, line width=0.7pt, dash pattern=on 8.8pt off 5.2pt] coordinates {(2,65.0) (2,90.0)};
\addplot[black, line width=0.7pt, dash pattern=on 8.8pt off 5.2pt] coordinates {(2,48.1) (2,24.75)};
\addplot[black, line width=0.7pt] coordinates {(1.89,90.0) (2.11,90.0)};
\addplot[black, line width=0.7pt] coordinates {(1.89,24.75) (2.11,24.75)};
\addplot[blue, line width=0.7pt] coordinates {(1.775,48.1) (2.225,48.1) (2.225,65.0) (1.775,65.0) (1.775,48.1)};
\addplot[red, line width=0.7pt] coordinates {(1.775,56.7) (2.225,56.7)};
\addplot[only marks, mark=+, mark size=4.1pt, red, line width=1.1pt] coordinates {(2,99.9) (2,94.6) (2,22.4) (2,20.7) (2,20.0) (2,19.5) (2,18.8) (2,18.4) (2,10.3)};
% box 3
\addplot[black, line width=0.7pt] coordinates {(3,60.75) (3,65.5)};
\addplot[black, line width=0.7pt] coordinates {(3,55.1) (3,49.7)};
\addplot[black, line width=0.7pt] coordinates {(2.89,65.5) (3.11,65.5)};
\addplot[black, line width=0.7pt] coordinates {(2.89,49.7) (3.11,49.7)};
\addplot[blue, line width=0.7pt] coordinates {(2.775,55.1) (3.225,55.1) (3.225,60.75) (2.775,60.75) (2.775,55.1)};
\addplot[red, line width=0.7pt] coordinates {(2.775,58.05) (3.225,58.05)};
\node[rotate=90, font=\fontsize{10.8}{13}\selectfont] at (axis description cs:-0.177,0.5) {Δ\textit{P}\textsubscript{st,Σ} (\%)};
\node[font=\fontsize{12}{14}\selectfont] at (axis description cs:0.5,-0.106) {10 min time-series};
\node[font=\fontsize{12}{14}\selectfont] at (axis description cs:0.41,-0.176) {(\textbf{b})};
\end{axis}
\end{tikzpicture}
\end{document}
